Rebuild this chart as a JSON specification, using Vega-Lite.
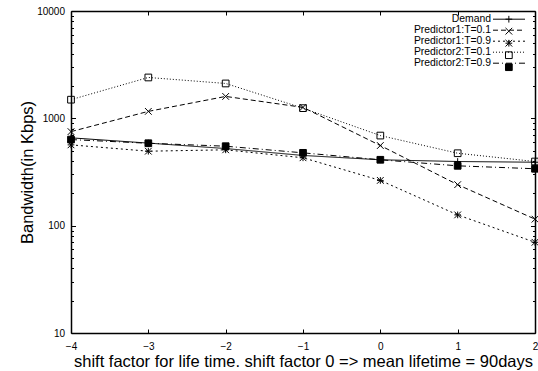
{
  "$schema": "https://vega.github.io/schema/vega-lite/v6.json",
  "width": 464,
  "height": 322,
  "autosize": "none",
  "padding": {"left": 71, "top": 11, "right": 3, "bottom": 38},
  "background": "white",
  "config": {
    "font": "Liberation Sans",
    "view": {"stroke": null},
    "axis": {
      "grid": false,
      "domainColor": "black",
      "domainWidth": 1.5,
      "tickColor": "black",
      "tickWidth": 1,
      "labelColor": "black",
      "titleColor": "black",
      "titleFontWeight": "normal",
      "labelFont": "Liberation Sans",
      "titleFont": "Liberation Sans"
    }
  },
  "data": {
    "values": [
      {"shift": -4, "bw": 658, "series": "Demand"},
      {"shift": -3, "bw": 588, "series": "Demand"},
      {"shift": -2, "bw": 523, "series": "Demand"},
      {"shift": -1, "bw": 451, "series": "Demand"},
      {"shift": 0, "bw": 411, "series": "Demand"},
      {"shift": 1, "bw": 396, "series": "Demand"},
      {"shift": 2, "bw": 390, "series": "Demand"},
      {"shift": -4, "bw": 752, "series": "Predictor1:T=0.1"},
      {"shift": -3, "bw": 1161, "series": "Predictor1:T=0.1"},
      {"shift": -2, "bw": 1600, "series": "Predictor1:T=0.1"},
      {"shift": -1, "bw": 1265, "series": "Predictor1:T=0.1"},
      {"shift": 0, "bw": 558, "series": "Predictor1:T=0.1"},
      {"shift": 1, "bw": 241, "series": "Predictor1:T=0.1"},
      {"shift": 2, "bw": 115, "series": "Predictor1:T=0.1"},
      {"shift": -4, "bw": 566, "series": "Predictor1:T=0.9"},
      {"shift": -3, "bw": 494, "series": "Predictor1:T=0.9"},
      {"shift": -2, "bw": 509, "series": "Predictor1:T=0.9"},
      {"shift": -1, "bw": 429, "series": "Predictor1:T=0.9"},
      {"shift": 0, "bw": 264, "series": "Predictor1:T=0.9"},
      {"shift": 1, "bw": 126, "series": "Predictor1:T=0.9"},
      {"shift": 2, "bw": 70, "series": "Predictor1:T=0.9"},
      {"shift": -4, "bw": 1492, "series": "Predictor2:T=0.1"},
      {"shift": -3, "bw": 2403, "series": "Predictor2:T=0.1"},
      {"shift": -2, "bw": 2113, "series": "Predictor2:T=0.1"},
      {"shift": -1, "bw": 1244, "series": "Predictor2:T=0.1"},
      {"shift": 0, "bw": 691, "series": "Predictor2:T=0.1"},
      {"shift": 1, "bw": 473, "series": "Predictor2:T=0.1"},
      {"shift": 2, "bw": 396, "series": "Predictor2:T=0.1"},
      {"shift": -4, "bw": 634, "series": "Predictor2:T=0.9"},
      {"shift": -3, "bw": 586, "series": "Predictor2:T=0.9"},
      {"shift": -2, "bw": 550, "series": "Predictor2:T=0.9"},
      {"shift": -1, "bw": 477, "series": "Predictor2:T=0.9"},
      {"shift": 0, "bw": 411, "series": "Predictor2:T=0.9"},
      {"shift": 1, "bw": 361, "series": "Predictor2:T=0.9"},
      {"shift": 2, "bw": 339, "series": "Predictor2:T=0.9"}
    ]
  },
  "layer": [
    {
      "mark": {"type": "line", "color": "black", "strokeWidth": 1},
      "encoding": {
        "x": {
          "field": "shift", "type": "quantitative",
          "scale": {"domain": [-4, 2], "nice": false, "zero": false},
          "axis": {
            "orient": "bottom",
            "values": [-4, -3, -2, -1, 0, 1, 2],
            "tickSize": -4,
            "labelFontSize": 10,
            "labelPadding": 12,
            "labelFlush": false,
            "labelOverlap": false,
            "title": "shift factor for life time. shift factor 0 => mean lifetime = 90days",
            "titleFontSize": 16.5,
            "titlePadding": 2
          }
        },
        "y": {
          "field": "bw", "type": "quantitative",
          "scale": {"type": "log", "domain": [10, 10000], "nice": false},
          "axis": {
            "orient": "left",
            "values": [10, 20, 30, 40, 50, 60, 70, 80, 90, 100, 200, 300, 400, 500, 600, 700, 800, 900, 1000, 2000, 3000, 4000, 5000, 6000, 7000, 8000, 9000, 10000],
            "tickSize": {"condition": {"test": "indexof([10,100,1000,10000], datum.value) >= 0", "value": -4.5}, "value": -2.5},
            "labelExpr": "indexof([10,100,1000,10000], datum.value) >= 0 ? format(datum.value, 'd') : ''",
            "labelFontSize": 10,
            "labelPadding": 11,
            "labelOverlap": false,
            "labelFlush": false,
            "title": "Bandwidth(in Kbps)",
            "titleFontSize": 16.5,
            "titlePadding": 1
          }
        },
        "strokeDash": {
          "field": "series", "type": "nominal",
          "scale": {
            "domain": ["Demand", "Predictor1:T=0.1", "Predictor1:T=0.9", "Predictor2:T=0.1", "Predictor2:T=0.9"],
            "range": [[1, 0], [5, 3], [2, 3], [1, 2], [6, 3, 1, 3]]
          },
          "legend": {
            "orient": "none",
            "legendX": 432.8,
            "legendY": 3,
            "title": null,
            "padding": 0,
            "symbolType": "M-5,0L5,0",
            "symbolSize": 41,
            "symbolStrokeColor": "black",
            "symbolStrokeWidth": 1,
            "labelAlign": "right",
            "labelOffset": -23.2,
            "labelFontSize": 10.4,
            "labelFont": "Liberation Sans",
            "labelColor": "black",
            "rowPadding": 0
          }
        }
      }
    },
    {
      "mark": {"type": "point", "filled": false, "strokeWidth": 1, "size": 45, "opacity": 1},
      "encoding": {
        "x": {
          "field": "shift", "type": "quantitative",
          "axis": {"orient": "top", "values": [-4, -3, -2, -1, 0, 1, 2], "tickSize": -4, "labels": false, "title": null}
        },
        "y": {
          "field": "bw", "type": "quantitative",
          "axis": {
            "orient": "right",
            "values": [10, 20, 30, 40, 50, 60, 70, 80, 90, 100, 200, 300, 400, 500, 600, 700, 800, 900, 1000, 2000, 3000, 4000, 5000, 6000, 7000, 8000, 9000, 10000],
            "tickSize": {"condition": {"test": "indexof([10,100,1000,10000], datum.value) >= 0", "value": -4.5}, "value": -2.5},
            "labels": false,
            "title": null
          }
        },
        "shape": {
          "field": "series", "type": "nominal",
          "scale": {"range": ["M-1,0L1,0M0,-1L0,1", "M-1,-1L1,1M-1,1L1,-1", "M-1,-1L1,1M-1,1L1,-1M-1,0L1,0M0,-1L0,1", "square", "square"]},
          "legend": {
            "orient": "none",
            "legendX": 432.65,
            "legendY": 3,
            "title": null,
            "padding": 0,
            "symbolSize": 45,
            "symbolStrokeWidth": 1,
            "labelAlign": "right",
            "labelOffset": -23.35,
            "labelFontSize": 10.4,
            "labelFont": "Liberation Sans",
            "labelOpacity": 0,
            "rowPadding": 0
          }
        },
        "fill": {
          "field": "series", "type": "nominal",
          "scale": {"range": ["transparent", "transparent", "transparent", "transparent", "black"]},
          "legend": {
            "orient": "none",
            "legendX": 432.65,
            "legendY": 3,
            "title": null,
            "padding": 0,
            "symbolSize": 45,
            "symbolStrokeWidth": 1,
            "labelAlign": "right",
            "labelOffset": -23.35,
            "labelFontSize": 10.4,
            "labelFont": "Liberation Sans",
            "labelOpacity": 0,
            "rowPadding": 0
          }
        },
        "stroke": {
          "field": "series", "type": "nominal",
          "scale": {"range": ["black", "black", "black", "black", "black"]},
          "legend": {
            "orient": "none",
            "legendX": 432.65,
            "legendY": 3,
            "title": null,
            "padding": 0,
            "symbolSize": 45,
            "symbolStrokeWidth": 1,
            "labelAlign": "right",
            "labelOffset": -23.35,
            "labelFontSize": 10.4,
            "labelFont": "Liberation Sans",
            "labelOpacity": 0,
            "rowPadding": 0
          }
        }
      }
    }
  ],
  "resolve": {"axis": {"x": "independent", "y": "independent"}}
}
